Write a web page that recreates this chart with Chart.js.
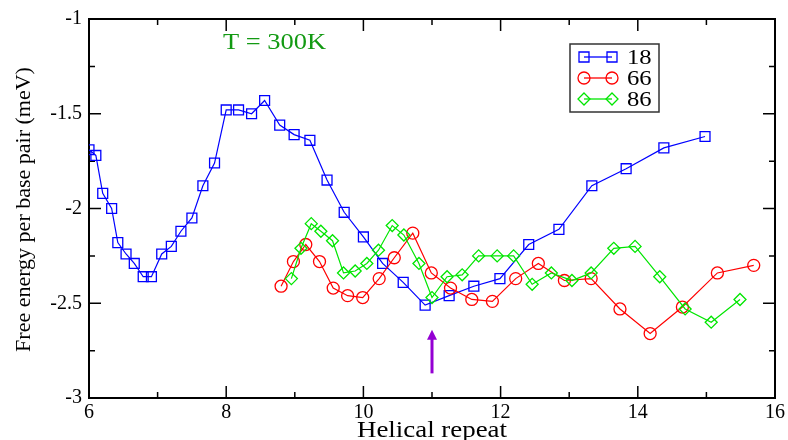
<!DOCTYPE html>
<html>
<head>
<meta charset="utf-8">
<script src="https://cdn.jsdelivr.net/npm/chart.js@4.4.1/dist/chart.umd.min.js"></script>
<style>
  html, body { margin: 0; padding: 0; background: #fff; }
</style>
</head>
<body>
<canvas id="chart" width="788" height="440"></canvas>
<script>
// helical repeat vs free energy per base pair
const blueX = [6.00, 6.10, 6.20, 6.33, 6.42, 6.54, 6.66, 6.79, 6.91, 7.06, 7.20, 7.34, 7.50, 7.66, 7.83, 8.00, 8.18, 8.37, 8.56, 8.78, 8.99, 9.22, 9.47, 9.72, 10.00, 10.28, 10.58, 10.90, 11.25, 11.61, 11.99, 12.41, 12.85, 13.33, 13.83, 14.38, 14.98];
const blueY = [-1.69, -1.72, -1.92, -2.00, -2.18, -2.24, -2.29, -2.36, -2.36, -2.24, -2.20, -2.12, -2.05, -1.88, -1.76, -1.48, -1.48, -1.50, -1.43, -1.56, -1.61, -1.64, -1.85, -2.02, -2.15, -2.29, -2.39, -2.51, -2.46, -2.41, -2.37, -2.19, -2.11, -1.88, -1.79, -1.68, -1.62];

const redX = [8.80, 8.98, 9.16, 9.36, 9.56, 9.77, 9.99, 10.23, 10.45, 10.72, 10.99, 11.27, 11.58, 11.88, 12.22, 12.55, 12.93, 13.32, 13.74, 14.18, 14.65, 15.16, 15.69];
const redY = [-2.41, -2.28, -2.19, -2.28, -2.42, -2.46, -2.47, -2.37, -2.26, -2.13, -2.34, -2.42, -2.48, -2.49, -2.37, -2.29, -2.38, -2.37, -2.53, -2.66, -2.52, -2.34, -2.30];

const greenX = [8.95, 9.09, 9.24, 9.38, 9.55, 9.71, 9.88, 10.05, 10.22, 10.42, 10.59, 10.81, 11.00, 11.22, 11.44, 11.68, 11.95, 12.19, 12.46, 12.74, 13.04, 13.32, 13.65, 13.96, 14.32, 14.69, 15.07, 15.49];
const greenY = [-2.37, -2.21, -2.08, -2.12, -2.17, -2.34, -2.33, -2.29, -2.22, -2.09, -2.14, -2.29, -2.47, -2.36, -2.35, -2.25, -2.25, -2.25, -2.40, -2.34, -2.38, -2.34, -2.21, -2.20, -2.36, -2.53, -2.60, -2.48];

const seriesNames = ["18", "66", "86"];
const arrowX = 11;
const arrowY = [-2.87, -2.64];

const SERIF = "'Times New Roman', 'Liberation Serif', Times, serif";

function pts(xs, ys) {
  return xs.map((x, i) => ({ x: x, y: ys[i] }));
}

function marker(ctx, style, x, y, color) {
  ctx.save();
  ctx.strokeStyle = color;
  ctx.lineWidth = 1.3;
  ctx.beginPath();
  if (style === "rect") {
    ctx.rect(x - 5, y - 5, 10, 10);
  } else if (style === "circle") {
    ctx.arc(x, y, 6, 0, Math.PI * 2);
  } else {
    ctx.moveTo(x, y - 6); ctx.lineTo(x + 6, y); ctx.lineTo(x, y + 6); ctx.lineTo(x - 6, y); ctx.closePath();
  }
  ctx.stroke();
  ctx.restore();
}

function stretchText(ctx, text, x, y, sx, align) {
  ctx.save();
  ctx.translate(x, y);
  ctx.scale(sx, 1);
  ctx.textAlign = align;
  ctx.fillText(text, 0, 0);
  ctx.restore();
}

const framePlugin = {
  id: "frame",
  beforeDatasetsDraw(chart) {
    const ctx = chart.ctx;
    const a = chart.chartArea;
    const xs = chart.scales.x, ys = chart.scales.y;
    ctx.save();
    ctx.strokeStyle = "#000";
    ctx.lineWidth = 1.5;
    ctx.beginPath();
    for (let v = 6; v <= 16; v++) {
      const px = xs.getPixelForValue(v);
      const len = v % 2 === 0 ? 12 : 6;
      ctx.moveTo(px, a.bottom); ctx.lineTo(px, a.bottom - len);
      ctx.moveTo(px, a.top); ctx.lineTo(px, a.top + len);
    }
    for (let k = 0; k <= 8; k++) {
      const v = -3 + k * 0.25;
      const py = ys.getPixelForValue(v);
      const len = k % 2 === 0 ? 12 : 6;
      ctx.moveTo(a.left, py); ctx.lineTo(a.left + len, py);
      ctx.moveTo(a.right, py); ctx.lineTo(a.right - len, py);
    }
    ctx.stroke();
    ctx.lineWidth = 2;
    ctx.strokeRect(a.left, a.top, a.right - a.left, a.bottom - a.top);
    ctx.restore();
  },
  afterDraw(chart) {
    const ctx = chart.ctx;
    const a = chart.chartArea;
    const xs = chart.scales.x, ys = chart.scales.y;
    ctx.save();

    // axis titles
    ctx.fillStyle = "#000";
    ctx.font = "22px " + SERIF;
    ctx.textBaseline = "middle";
    ctx.save();
    ctx.translate(24, (a.top + a.bottom) / 2 + 1);
    ctx.rotate(-Math.PI / 2);
    ctx.textAlign = "center";
    ctx.fillText("Free energy per base pair (meV)", 0, 0);
    ctx.restore();

    ctx.font = "24px " + SERIF;
    ctx.textBaseline = "alphabetic";
    stretchText(ctx, "Helical repeat", (a.left + a.right) / 2, 437, 1.12, "center");

    // temperature label
    ctx.fillStyle = "#139a13";
    ctx.font = "23px " + SERIF;
    ctx.textBaseline = "middle";
    stretchText(ctx, "T = 300K", 223, 43, 1.15, "left");

    // arrow at the minimum
    const ax = xs.getPixelForValue(arrowX);
    const y0 = ys.getPixelForValue(arrowY[0]);
    const y1 = ys.getPixelForValue(arrowY[1]);
    ctx.strokeStyle = "#9400d3";
    ctx.fillStyle = "#9400d3";
    ctx.lineWidth = 3;
    ctx.beginPath();
    ctx.moveTo(ax, y0); ctx.lineTo(ax, y1 + 8);
    ctx.stroke();
    ctx.beginPath();
    ctx.moveTo(ax, y1); ctx.lineTo(ax + 5, y1 + 10); ctx.lineTo(ax - 5, y1 + 10); ctx.closePath();
    ctx.fill();

    // legend
    const lx = 570, ly = 44, lw = 89, lh = 68;
    ctx.fillStyle = "#fff";
    ctx.fillRect(lx, ly, lw, lh);
    ctx.strokeStyle = "#333";
    ctx.lineWidth = 1.5;
    ctx.strokeRect(lx, ly, lw, lh);
    const rows = [57, 78, 99];
    chart.data.datasets.forEach((ds, i) => {
      const y = rows[i];
      ctx.strokeStyle = ds.borderColor;
      ctx.lineWidth = 1.3;
      ctx.beginPath();
      ctx.moveTo(584, y); ctx.lineTo(612, y);
      ctx.stroke();
      marker(ctx, ds.pointStyle, 584, y, ds.borderColor);
      marker(ctx, ds.pointStyle, 612, y, ds.borderColor);
      ctx.fillStyle = "#000";
      ctx.font = "22px " + SERIF;
      ctx.textBaseline = "middle";
      stretchText(ctx, ds.label, 627, y + 1, 1.12, "left");
    });
    ctx.restore();
  }
};

new Chart(document.getElementById("chart"), {
  type: "line",
  data: {
    datasets: [
      {
        label: seriesNames[0],
        data: pts(blueX, blueY),
        borderColor: "#0000ff",
        pointStyle: "rect",
        pointRadius: 7,
        order: 2,
      },
      {
        label: seriesNames[1],
        data: pts(redX, redY),
        borderColor: "#ff0000",
        pointStyle: "circle",
        pointRadius: 6,
        order: 1,
      },
      {
        label: seriesNames[2],
        data: pts(greenX, greenY),
        borderColor: "#00e600",
        pointStyle: "rectRot",
        pointRadius: 6,
        order: 0,
      },
    ].map((d) => Object.assign(d, {
      borderWidth: 1.2,
      pointBorderWidth: 1.3,
      backgroundColor: "transparent",
      pointBackgroundColor: "transparent",
      pointBorderColor: d.borderColor,
      tension: 0,
      fill: false,
    })),
  },
  options: {
    responsive: false,
    animation: false,
    devicePixelRatio: 1,
    layout: { padding: { top: 17, right: 11, left: 0, bottom: 0 } },
    plugins: { legend: { display: false }, tooltip: { enabled: false } },
    elements: { point: { hitRadius: 0 } },
    scales: {
      x: {
        type: "linear",
        min: 6,
        max: 16,
        grid: { display: false, drawTicks: false },
        border: { display: false },
        ticks: { stepSize: 2, padding: 3, color: "#000", font: { family: SERIF, size: 20 }, callback: (v) => String(v) },
        afterFit(s) { s.height = 42; },
      },
      y: {
        min: -3,
        max: -1,
        grid: { display: false, drawTicks: false },
        border: { display: false },
        ticks: { stepSize: 0.5, padding: 7, color: "#000", font: { family: SERIF, size: 20 }, callback: (v) => String(v) },
        afterFit(s) { s.width = 89; },
      },
    },
  },
  plugins: [framePlugin],
});
</script>
</body>
</html>
